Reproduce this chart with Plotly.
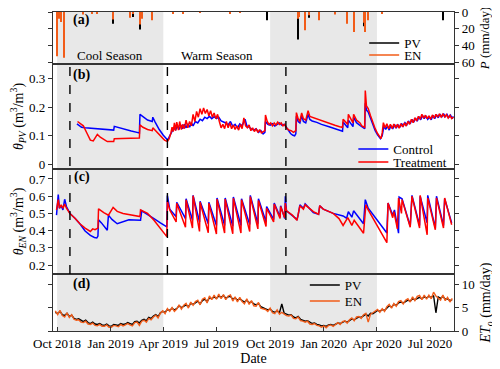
import plotly.graph_objects as go
import pandas as pd

# ---------------- DATA ----------------
# (a) precipitation events (mm/day)
rain_pv_dates = ["2018-10-01", "2018-10-05", "2018-10-13", "2019-01-05", "2019-02-03", "2019-02-08",
                 "2019-02-20", "2019-03-12", "2019-09-25", "2019-11-18", "2019-12-07", "2019-12-23",
                 "2020-03-09", "2020-03-17", "2020-07-23"]
rain_pv = [50, 6, 52, 14, 3, 6, 21, 4, 10, 33, 7, 6, 17, 7, 10]
rain_en_dates = ["2018-10-01", "2018-10-05", "2018-10-08", "2018-10-13", "2018-11-14", "2018-11-30",
                 "2018-12-09", "2019-01-05", "2019-02-03", "2019-02-08", "2019-02-20", "2019-02-23",
                 "2019-03-12", "2019-04-17", "2019-05-04", "2019-06-03", "2019-07-24", "2019-08-10",
                 "2019-11-18", "2019-11-19", "2019-11-29", "2019-12-07", "2019-12-23", "2020-01-20",
                 "2020-02-09", "2020-02-21", "2020-03-09", "2020-03-12", "2020-03-17", "2020-04-09"]
rain_en = [53, 8, 12, 55, 3, 2, 1.5, 9, 7, 2, 15, 8, 10, 2, 1.5, 1, 2, 1,
           8, 6, 22, 4, 10, 3, 14, 24, 13, 24, 10, 1.5]

# (b) theta_PV (m3/m3)
pv_control = [
    ("2018-11-04", 0.142), ("2018-11-08", 0.135), ("2018-11-12", 0.130), ("2018-11-18", 0.128),
    ("2018-11-25", 0.127), ("2018-12-02", 0.125), ("2018-12-10", 0.124), ("2018-12-18", 0.123),
    ("2018-12-28", 0.121), ("2019-01-06", 0.120), ("2019-01-07", 0.133), ("2019-01-15", 0.128),
    ("2019-01-25", 0.122), ("2019-02-05", 0.117), ("2019-02-15", 0.112), ("2019-02-19", 0.110),
    ("2019-02-20", 0.175), ("2019-02-25", 0.168), ("2019-03-01", 0.160), ("2019-03-05", 0.155),
    ("2019-03-13", 0.150), ("2019-03-14", 0.165), ("2019-03-18", 0.148), ("2019-03-25", 0.122),
    ("2019-04-01", 0.102), ("2019-04-08", 0.086), ("2019-04-10", 0.092), ("2019-04-13", 0.105),
    ("2019-04-16", 0.118), ("2019-04-19", 0.128), ("2019-04-22", 0.120), ("2019-04-25", 0.135),
    ("2019-04-28", 0.122), ("2019-05-01", 0.138), ("2019-05-04", 0.125), ("2019-05-07", 0.140),
    ("2019-05-10", 0.128), ("2019-05-13", 0.142), ("2019-05-16", 0.130), ("2019-05-19", 0.145),
    ("2019-05-22", 0.135), ("2019-05-26", 0.150), ("2019-05-30", 0.145), ("2019-06-03", 0.158),
    ("2019-06-07", 0.153), ("2019-06-11", 0.165), ("2019-06-15", 0.160), ("2019-06-19", 0.168),
    ("2019-06-23", 0.160), ("2019-06-27", 0.167), ("2019-07-01", 0.160), ("2019-07-05", 0.165),
    ("2019-07-09", 0.152), ("2019-07-13", 0.148), ("2019-07-17", 0.145), ("2019-07-21", 0.138),
    ("2019-07-25", 0.150), ("2019-07-29", 0.133), ("2019-08-02", 0.140), ("2019-08-06", 0.128),
    ("2019-08-10", 0.142), ("2019-08-14", 0.135), ("2019-08-19", 0.158), ("2019-08-22", 0.135),
    ("2019-08-26", 0.128), ("2019-08-30", 0.124), ("2019-09-03", 0.120), ("2019-09-07", 0.125),
    ("2019-09-11", 0.112), ("2019-09-15", 0.118), ("2019-09-19", 0.107), ("2019-09-22", 0.112),
    ("2019-09-23", 0.150), ("2019-09-27", 0.140), ("2019-10-01", 0.137), ("2019-10-05", 0.142),
    ("2019-10-09", 0.134), ("2019-10-13", 0.140), ("2019-10-17", 0.145), ("2019-10-21", 0.137),
    ("2019-10-25", 0.140), ("2019-10-28", 0.132), ("2019-11-01", 0.118), ("2019-11-05", 0.108),
    ("2019-11-09", 0.102), ("2019-11-12", 0.100), ("2019-11-14", 0.107), ("2019-11-15", 0.168),
    ("2019-11-18", 0.150), ("2019-11-21", 0.145), ("2019-11-24", 0.170), ("2019-11-27", 0.150),
    ("2019-12-01", 0.145), ("2019-12-05", 0.175), ("2019-12-08", 0.157), ("2019-12-12", 0.152),
    ("2019-12-20", 0.147), ("2019-12-28", 0.140), ("2020-01-10", 0.132), ("2020-01-20", 0.125),
    ("2020-01-28", 0.119), ("2020-02-02", 0.116), ("2020-02-03", 0.148), ("2020-02-08", 0.135),
    ("2020-02-11", 0.128), ("2020-02-12", 0.155), ("2020-02-16", 0.145), ("2020-02-20", 0.132),
    ("2020-02-21", 0.165), ("2020-02-26", 0.146), ("2020-03-03", 0.136), ("2020-03-11", 0.125),
    ("2020-03-12", 0.214), ("2020-03-14", 0.190), ("2020-03-17", 0.183), ("2020-03-21", 0.160),
    ("2020-03-25", 0.138), ("2020-03-29", 0.118), ("2020-04-02", 0.103), ("2020-04-07", 0.090),
    ("2020-04-10", 0.100), ("2020-04-13", 0.135), ("2020-04-16", 0.122), ("2020-04-19", 0.135),
    ("2020-04-22", 0.120), ("2020-04-25", 0.136), ("2020-04-28", 0.124), ("2020-05-01", 0.140),
    ("2020-05-04", 0.127), ("2020-05-07", 0.138), ("2020-05-10", 0.129), ("2020-05-13", 0.143),
    ("2020-05-16", 0.134), ("2020-05-19", 0.146), ("2020-05-22", 0.138), ("2020-05-25", 0.152),
    ("2020-05-28", 0.142), ("2020-05-31", 0.157), ("2020-06-03", 0.148), ("2020-06-06", 0.162),
    ("2020-06-09", 0.151), ("2020-06-12", 0.167), ("2020-06-15", 0.156), ("2020-06-18", 0.172),
    ("2020-06-21", 0.160), ("2020-06-24", 0.170), ("2020-06-27", 0.158), ("2020-06-30", 0.166),
    ("2020-07-03", 0.156), ("2020-07-06", 0.172), ("2020-07-09", 0.160), ("2020-07-12", 0.174),
    ("2020-07-15", 0.163), ("2020-07-18", 0.176), ("2020-07-21", 0.165), ("2020-07-24", 0.178),
    ("2020-07-27", 0.167), ("2020-07-30", 0.175), ("2020-08-02", 0.164), ("2020-08-05", 0.172),
    ("2020-08-08", 0.160), ("2020-08-10", 0.168)]

pv_treatment = [
    ("2018-11-05", 0.150), ("2018-11-15", 0.135), ("2018-11-21", 0.110), ("2018-11-27", 0.085),
    ("2018-12-02", 0.082), ("2018-12-09", 0.105), ("2018-12-14", 0.095), ("2018-12-26", 0.080),
    ("2019-01-06", 0.080), ("2019-01-07", 0.090), ("2019-01-20", 0.091), ("2019-02-05", 0.092),
    ("2019-02-19", 0.092), ("2019-02-20", 0.138), ("2019-02-25", 0.130), ("2019-03-05", 0.122),
    ("2019-03-13", 0.118), ("2019-03-14", 0.128), ("2019-03-20", 0.115), ("2019-03-27", 0.098),
    ("2019-04-03", 0.085), ("2019-04-08", 0.080), ("2019-04-11", 0.090), ("2019-04-14", 0.110),
    ("2019-04-16", 0.130), ("2019-04-18", 0.115), ("2019-04-20", 0.145), ("2019-04-22", 0.118),
    ("2019-04-24", 0.148), ("2019-04-27", 0.120), ("2019-04-29", 0.150), ("2019-05-02", 0.122),
    ("2019-05-04", 0.140), ("2019-05-07", 0.125), ("2019-05-10", 0.155), ("2019-05-13", 0.128),
    ("2019-05-16", 0.150), ("2019-05-19", 0.135), ("2019-05-22", 0.175), ("2019-05-25", 0.150),
    ("2019-05-28", 0.185), ("2019-05-31", 0.165), ("2019-06-03", 0.195), ("2019-06-06", 0.175),
    ("2019-06-09", 0.197), ("2019-06-12", 0.178), ("2019-06-15", 0.192), ("2019-06-18", 0.170),
    ("2019-06-21", 0.188), ("2019-06-24", 0.165), ("2019-06-27", 0.180), ("2019-06-30", 0.160),
    ("2019-07-03", 0.175), ("2019-07-06", 0.150), ("2019-07-09", 0.128), ("2019-07-12", 0.140),
    ("2019-07-15", 0.125), ("2019-07-18", 0.150), ("2019-07-21", 0.128), ("2019-07-24", 0.145),
    ("2019-07-27", 0.125), ("2019-07-30", 0.138), ("2019-08-02", 0.122), ("2019-08-05", 0.135),
    ("2019-08-08", 0.120), ("2019-08-11", 0.140), ("2019-08-14", 0.125), ("2019-08-17", 0.163),
    ("2019-08-20", 0.135), ("2019-08-23", 0.128), ("2019-08-26", 0.138), ("2019-08-29", 0.118),
    ("2019-09-01", 0.128), ("2019-09-04", 0.115), ("2019-09-07", 0.125), ("2019-09-10", 0.112),
    ("2019-09-13", 0.122), ("2019-09-16", 0.110), ("2019-09-20", 0.115), ("2019-09-22", 0.118),
    ("2019-09-23", 0.173), ("2019-09-26", 0.150), ("2019-09-29", 0.140), ("2019-10-02", 0.145),
    ("2019-10-05", 0.135), ("2019-10-08", 0.145), ("2019-10-11", 0.138), ("2019-10-14", 0.148),
    ("2019-10-17", 0.140), ("2019-10-20", 0.145), ("2019-10-23", 0.135), ("2019-10-26", 0.140),
    ("2019-10-29", 0.128), ("2019-11-02", 0.120), ("2019-11-06", 0.118), ("2019-11-10", 0.112),
    ("2019-11-14", 0.118), ("2019-11-15", 0.181), ("2019-11-18", 0.160), ("2019-11-21", 0.150),
    ("2019-11-24", 0.180), ("2019-11-27", 0.160), ("2019-12-01", 0.155), ("2019-12-05", 0.188),
    ("2019-12-08", 0.168), ("2019-12-12", 0.165), ("2019-12-20", 0.160), ("2019-12-28", 0.152),
    ("2020-01-10", 0.142), ("2020-01-20", 0.137), ("2020-01-28", 0.132), ("2020-02-02", 0.130),
    ("2020-02-03", 0.158), ("2020-02-08", 0.145), ("2020-02-11", 0.140), ("2020-02-12", 0.175),
    ("2020-02-16", 0.160), ("2020-02-20", 0.145), ("2020-02-21", 0.175), ("2020-02-26", 0.155),
    ("2020-03-03", 0.145), ("2020-03-06", 0.135), ("2020-03-11", 0.130), ("2020-03-12", 0.258),
    ("2020-03-14", 0.205), ("2020-03-17", 0.195), ("2020-03-21", 0.170), ("2020-03-25", 0.145),
    ("2020-03-29", 0.125), ("2020-04-02", 0.108), ("2020-04-06", 0.095), ("2020-04-08", 0.090),
    ("2020-04-10", 0.110), ("2020-04-12", 0.146), ("2020-04-15", 0.128), ("2020-04-18", 0.142),
    ("2020-04-21", 0.125), ("2020-04-24", 0.140), ("2020-04-27", 0.126), ("2020-04-30", 0.141),
    ("2020-05-03", 0.128), ("2020-05-06", 0.140), ("2020-05-09", 0.127), ("2020-05-12", 0.142),
    ("2020-05-15", 0.131), ("2020-05-18", 0.145), ("2020-05-21", 0.134), ("2020-05-24", 0.150),
    ("2020-05-27", 0.140), ("2020-05-30", 0.158), ("2020-06-02", 0.146), ("2020-06-05", 0.163),
    ("2020-06-08", 0.152), ("2020-06-11", 0.168), ("2020-06-14", 0.158), ("2020-06-17", 0.175),
    ("2020-06-20", 0.162), ("2020-06-23", 0.172), ("2020-06-26", 0.160), ("2020-06-29", 0.170),
    ("2020-07-02", 0.158), ("2020-07-05", 0.173), ("2020-07-08", 0.162), ("2020-07-11", 0.175),
    ("2020-07-14", 0.165), ("2020-07-17", 0.177), ("2020-07-20", 0.166), ("2020-07-23", 0.176),
    ("2020-07-26", 0.166), ("2020-07-29", 0.174), ("2020-08-01", 0.162), ("2020-08-04", 0.171),
    ("2020-08-07", 0.160), ("2020-08-10", 0.166)]

# (c) theta_EN (m3/m3)
en_control = [
    ("2018-09-30", 0.490), ("2018-10-03", 0.610), ("2018-10-05", 0.530), ("2018-10-08", 0.545),
    ("2018-10-11", 0.520), ("2018-10-14", 0.582), ("2018-10-17", 0.540), ("2018-10-23", 0.500),
    ("2018-11-01", 0.470), ("2018-11-09", 0.440), ("2018-11-18", 0.398), ("2018-11-27", 0.372),
    ("2018-12-04", 0.360), ("2018-12-08", 0.357), ("2018-12-10", 0.368), ("2018-12-11", 0.463),
    ("2018-12-16", 0.445), ("2018-12-22", 0.420), ("2018-12-26", 0.402), ("2018-12-28", 0.490),
    ("2019-01-03", 0.465), ("2019-01-12", 0.440), ("2019-01-22", 0.452), ("2019-02-01", 0.463),
    ("2019-02-10", 0.462), ("2019-02-21", 0.460), ("2019-02-23", 0.515), ("2019-03-05", 0.495),
    ("2019-03-16", 0.470), ("2019-03-27", 0.445), ("2019-04-07", 0.422), ("2019-04-08", 0.604),
    ("2019-04-12", 0.525), ("2019-04-23", 0.480), ("2019-04-24", 0.565), ("2019-05-09", 0.470),
    ("2019-05-10", 0.585), ("2019-05-21", 0.460), ("2019-05-22", 0.605), ("2019-06-02", 0.450),
    ("2019-06-03", 0.570), ("2019-06-17", 0.440), ("2019-06-18", 0.565), ("2019-07-01", 0.430),
    ("2019-07-02", 0.590), ("2019-07-15", 0.430), ("2019-07-16", 0.590), ("2019-07-29", 0.425),
    ("2019-07-30", 0.595), ("2019-08-12", 0.430), ("2019-08-13", 0.585), ("2019-08-27", 0.435),
    ("2019-08-28", 0.605), ("2019-09-10", 0.440), ("2019-09-11", 0.585), ("2019-09-24", 0.450),
    ("2019-09-25", 0.540), ("2019-10-07", 0.465), ("2019-10-08", 0.560), ("2019-10-18", 0.480),
    ("2019-10-19", 0.545), ("2019-10-26", 0.470), ("2019-10-27", 0.600), ("2019-10-29", 0.515),
    ("2019-11-08", 0.490), ("2019-11-16", 0.465), ("2019-11-18", 0.490), ("2019-11-21", 0.550),
    ("2019-11-27", 0.530), ("2019-11-30", 0.555), ("2019-12-14", 0.505), ("2019-12-23", 0.495),
    ("2019-12-25", 0.545), ("2019-12-31", 0.525), ("2020-01-17", 0.500), ("2020-02-03", 0.485),
    ("2020-02-09", 0.472), ("2020-02-12", 0.510), ("2020-02-18", 0.478), ("2020-02-21", 0.515),
    ("2020-03-09", 0.440), ("2020-03-12", 0.580), ("2020-03-17", 0.530), ("2020-04-18", 0.386),
    ("2020-04-20", 0.560), ("2020-04-28", 0.490), ("2020-05-01", 0.520), ("2020-05-08", 0.385),
    ("2020-05-09", 0.595), ("2020-05-14", 0.585), ("2020-05-28", 0.425), ("2020-05-31", 0.605),
    ("2020-06-13", 0.430), ("2020-06-14", 0.600), ("2020-06-26", 0.445), ("2020-06-27", 0.605),
    ("2020-07-10", 0.415), ("2020-07-12", 0.600), ("2020-07-24", 0.430), ("2020-07-26", 0.585),
    ("2020-08-07", 0.445)]

en_treatment = [
    ("2018-09-30", 0.520), ("2018-10-03", 0.580), ("2018-10-05", 0.530), ("2018-10-08", 0.550),
    ("2018-10-11", 0.530), ("2018-10-14", 0.555), ("2018-10-17", 0.530), ("2018-10-23", 0.500),
    ("2018-11-01", 0.470), ("2018-11-09", 0.440), ("2018-11-18", 0.415), ("2018-11-27", 0.395),
    ("2018-12-01", 0.410), ("2018-12-05", 0.405), ("2018-12-10", 0.415), ("2018-12-11", 0.527),
    ("2018-12-20", 0.505), ("2018-12-28", 0.490), ("2019-01-05", 0.535), ("2019-01-12", 0.512),
    ("2019-01-22", 0.500), ("2019-02-05", 0.490), ("2019-02-20", 0.482), ("2019-02-21", 0.520),
    ("2019-03-05", 0.500), ("2019-03-16", 0.460), ("2019-03-27", 0.410), ("2019-04-07", 0.365),
    ("2019-04-08", 0.569), ("2019-04-12", 0.520), ("2019-04-23", 0.450), ("2019-04-24", 0.559),
    ("2019-05-09", 0.420), ("2019-05-10", 0.579), ("2019-05-21", 0.415), ("2019-05-22", 0.603),
    ("2019-06-02", 0.395), ("2019-06-03", 0.565), ("2019-06-17", 0.388), ("2019-06-18", 0.559),
    ("2019-07-01", 0.380), ("2019-07-02", 0.583), ("2019-07-15", 0.386), ("2019-07-16", 0.583),
    ("2019-07-29", 0.382), ("2019-07-30", 0.588), ("2019-08-12", 0.386), ("2019-08-13", 0.580),
    ("2019-08-27", 0.395), ("2019-08-28", 0.598), ("2019-09-10", 0.410), ("2019-09-11", 0.575),
    ("2019-09-24", 0.424), ("2019-09-25", 0.530), ("2019-10-07", 0.450), ("2019-10-08", 0.554),
    ("2019-10-18", 0.470), ("2019-10-19", 0.540), ("2019-10-26", 0.475), ("2019-10-27", 0.560),
    ("2019-10-29", 0.515), ("2019-11-08", 0.490), ("2019-11-16", 0.460), ("2019-11-18", 0.490),
    ("2019-11-21", 0.545), ("2019-11-27", 0.525), ("2019-11-30", 0.550), ("2019-12-14", 0.510),
    ("2019-12-23", 0.495), ("2019-12-25", 0.545), ("2019-12-31", 0.525), ("2020-01-17", 0.500),
    ("2020-01-27", 0.470), ("2020-02-03", 0.430), ("2020-02-11", 0.475), ("2020-02-18", 0.430),
    ("2020-02-22", 0.460), ("2020-03-09", 0.385), ("2020-03-13", 0.550), ("2020-03-17", 0.520),
    ("2020-04-18", 0.330), ("2020-04-20", 0.560), ("2020-04-28", 0.475), ("2020-04-30", 0.510),
    ("2020-05-06", 0.410), ("2020-05-08", 0.590), ("2020-05-13", 0.500), ("2020-05-14", 0.580),
    ("2020-05-28", 0.420), ("2020-05-31", 0.600), ("2020-06-13", 0.415), ("2020-06-14", 0.605),
    ("2020-06-26", 0.376), ("2020-06-27", 0.590), ("2020-07-10", 0.405), ("2020-07-12", 0.590),
    ("2020-07-24", 0.415), ("2020-07-26", 0.590), ("2020-08-07", 0.434)]

# (d) reference evapotranspiration ET_o (mm/day), every 4 days from 2018-09-28
et_start = "2018-09-28"
et_pv = [4.0, 3.7, 4.2, 3.5, 3.3, 3.8, 3.1, 3.4, 2.7, 2.5,
         2.6, 2.2, 2.0, 2.3, 1.8, 1.6, 1.9, 1.5, 1.4, 1.6,
         1.3, 1.2, 1.5, 1.1, 1.0, 1.4, 1.3, 1.2, 1.6, 1.4,
         1.5, 1.8, 1.6, 1.4, 2.0, 2.1, 1.7, 2.3, 2.5, 2.2,
         2.9, 2.7, 3.2, 3.5, 3.1, 3.9, 4.2, 4.0, 4.6, 4.4,
         4.9, 4.5, 4.8, 5.4, 5.0, 5.3, 5.6, 5.2, 5.9, 5.7,
         6.0, 6.4, 5.8, 6.5, 6.8, 6.3, 7.1, 6.9, 7.3, 7.0,
         7.5, 7.2, 7.6, 7.0, 7.3, 7.4, 6.8, 7.1, 6.6, 6.9,
         6.5, 6.2, 6.6, 6.0, 6.3, 5.8, 5.6, 5.9, 5.2, 5.0,
         4.8, 4.5, 4.7, 4.2, 4.0, 4.3, 3.9, 5.8, 3.8, 3.6,
         3.4, 3.5, 3.0, 2.8, 3.1, 2.5, 2.3, 2.1, 2.2, 1.8,
         1.6, 1.7, 1.4, 1.3, 1.1, 1.2, 1.0, 1.3, 1.4, 1.2,
         1.5, 1.7, 1.6, 1.9, 2.1, 1.9, 2.3, 2.6, 2.4, 2.8,
         3.0, 2.9, 3.3, 3.6, 3.2, 3.8, 3.7, 4.1, 4.4, 4.2,
         4.6, 4.4, 5.0, 5.4, 5.1, 5.7, 5.5, 6.0, 6.2, 6.0,
         6.3, 6.6, 6.4, 6.9, 6.7, 7.0, 7.2, 6.9, 7.3, 7.1,
         7.4, 7.2, 7.6, 3.9, 7.3, 7.0, 7.4, 6.8, 6.9, 6.5,
         6.7]
et_en = [4.3, 3.5, 4.4, 3.3, 3.0, 3.9, 2.9, 3.5, 2.5, 2.3,
         2.4, 1.9, 1.8, 2.1, 1.5, 1.4, 1.7, 1.2, 1.1, 1.4,
         1.0, 1.0, 1.3, 0.8, 0.8, 1.2, 1.1, 0.9, 1.4, 1.1,
         1.3, 1.6, 1.3, 1.1, 1.8, 1.9, 1.2, 2.1, 2.3, 1.9,
         2.7, 2.4, 3.0, 3.4, 2.8, 3.8, 4.3, 3.7, 4.8, 4.2,
         5.0, 4.2, 4.7, 5.6, 4.7, 5.5, 5.9, 4.9, 6.2, 5.5,
         6.3, 6.6, 5.6, 6.8, 7.1, 6.0, 7.5, 6.7, 7.7, 6.8,
         7.9, 6.9, 7.8, 6.7, 7.5, 7.7, 6.4, 7.3, 6.2, 7.2,
         6.3, 5.8, 6.9, 5.7, 6.5, 5.4, 5.3, 6.1, 4.9, 4.7,
         4.6, 4.2, 4.9, 3.9, 3.7, 4.5, 3.6, 4.0, 3.6, 3.3,
         3.2, 3.4, 2.7, 2.6, 3.0, 2.2, 2.1, 1.9, 2.1, 1.5,
         1.4, 1.6, 1.2, 1.1, 0.8, 1.1, 0.7, 1.2, 1.3, 1.0,
         1.4, 1.8, 1.4, 2.0, 2.2, 1.7, 2.4, 2.8, 2.2, 3.0,
         3.1, 2.7, 3.5, 3.8, 1.9, 3.6, 3.9, 4.3, 4.6, 4.0,
         4.8, 4.2, 5.2, 5.7, 4.9, 5.9, 5.3, 6.3, 6.5, 5.8,
         6.6, 6.9, 6.2, 7.3, 6.5, 7.4, 7.6, 6.7, 7.7, 6.8,
         7.7, 6.9, 8.3, 7.5, 7.0, 6.6, 7.7, 6.5, 7.2, 6.2,
         7.0]

# periods
cool_seasons = [("2018-10-01", "2019-04-01"), ("2019-10-01", "2020-04-01")]
marker_dates = ["2018-10-23", "2019-04-08", "2019-10-28"]
tick_dates = ["2018-10-01", "2019-01-01", "2019-04-01", "2019-07-01", "2019-10-01",
              "2020-01-01", "2020-04-01", "2020-07-01"]
tick_labels = ["Oct 2018", "Jan 2019", "Apr 2019", "Jul 2019", "Oct 2019",
               "Jan 2020", "Apr 2020", "Jul 2020"]
x_range = ["2018-09-24", "2020-08-11"]

# ---------------- FIGURE ----------------
BLACK = "#000000"
ORANGE = "#F25C19"
BLUE = "#0000FF"
RED = "#FF0000"
FONT = "Liberation Serif"
DAY_MS = 86400000

et_dates = pd.date_range(et_start, periods=len(et_pv), freq="4D")

def split(pairs):
    return [p[0] for p in pairs], [p[1] for p in pairs]

fig = go.Figure()

# (a) precipitation bars
fig.add_trace(go.Bar(x=rain_pv_dates, y=rain_pv, width=[1.8 * DAY_MS] * len(rain_pv),
                     marker=dict(color=BLACK, line=dict(width=0)), showlegend=False,
                     xaxis="x", yaxis="y"))
fig.add_trace(go.Bar(x=rain_en_dates, y=rain_en, width=[1.8 * DAY_MS] * len(rain_en),
                     marker=dict(color=ORANGE, line=dict(width=0)), showlegend=False,
                     xaxis="x", yaxis="y"))
fig.add_trace(go.Scatter(x=[None], y=[None], mode="lines", line=dict(color=BLACK, width=1.5),
                         name="PV", legend="legend", xaxis="x", yaxis="y"))
fig.add_trace(go.Scatter(x=[None], y=[None], mode="lines", line=dict(color=ORANGE, width=1.5),
                         name="EN", legend="legend2", xaxis="x", yaxis="y"))

# (b)
x, y = split(pv_control)
fig.add_trace(go.Scatter(x=x, y=y, mode="lines", line=dict(color=BLUE, width=1.5),
                         name="Control", legend="legend3", xaxis="x2", yaxis="y2"))
x, y = split(pv_treatment)
fig.add_trace(go.Scatter(x=x, y=y, mode="lines", line=dict(color=RED, width=1.5),
                         name="Treatment", legend="legend4", xaxis="x2", yaxis="y2"))

# (c)
x, y = split(en_control)
fig.add_trace(go.Scatter(x=x, y=y, mode="lines", line=dict(color=BLUE, width=1.5),
                         showlegend=False, xaxis="x3", yaxis="y3"))
x, y = split(en_treatment)
fig.add_trace(go.Scatter(x=x, y=y, mode="lines", line=dict(color=RED, width=1.5),
                         showlegend=False, xaxis="x3", yaxis="y3"))

# (d)
fig.add_trace(go.Scatter(x=et_dates, y=et_pv, mode="lines", line=dict(color=BLACK, width=1.4),
                         name="PV", legend="legend5", xaxis="x4", yaxis="y4"))
fig.add_trace(go.Scatter(x=et_dates, y=et_en, mode="lines", line=dict(color=ORANGE, width=1.4),
                         name="EN", legend="legend6", xaxis="x4", yaxis="y4"))

dom = {"a": [0.837, 1.0], "b": [0.5078, 0.837], "c": [0.1787, 0.5078], "d": [0.0, 0.1787]}
axline = dict(showline=True, linecolor="#333333", linewidth=1.3, mirror=True, showgrid=False,
              zeroline=False)
tickfont = dict(family=FONT, size=13, color="black")
titlefont = dict(family=FONT, size=14, color="black")
ycommon = dict(showline=True, linecolor="#333333", linewidth=1.3, mirror="ticks",
               showgrid=False, zeroline=False, ticks="outside", ticklen=4,
               tickcolor="#333333", tickfont=tickfont)

xcommon = dict(range=x_range, type="date", **axline)
fig.update_layout(
    xaxis=dict(anchor="y", matches="x4", showticklabels=False, ticks="", **xcommon),
    xaxis2=dict(anchor="y2", matches="x4", showticklabels=False, ticks="", **xcommon),
    xaxis3=dict(anchor="y3", matches="x4", showticklabels=False, ticks="", **xcommon),
    xaxis4=dict(anchor="y4", tickvals=tick_dates, ticktext=tick_labels, ticks="inside",
                ticklen=4, tickcolor="#333333", tickfont=tickfont,
                title=dict(text="Date", font=titlefont, standoff=2), **xcommon),
    yaxis=dict(domain=dom["a"], anchor="x", side="right", range=[62.4, 0],
               tickvals=[0, 20, 40, 60], ticklabeloverflow="allow", automargin=False,
               title=dict(text="<i>P</i> (mm/day)", font=dict(family=FONT, size=13, color="black"),
                          standoff=6), **ycommon),
    yaxis2=dict(domain=dom["b"], anchor="x2", range=[-0.016, 0.351],
                tickvals=[0, 0.1, 0.2, 0.3], ticktext=["0", "0.1", "0.2", "0.3"],
                title=dict(text="<i>θ</i><sub><i>PV</i></sub> (m<sup>3</sup>/m<sup>3</sup>)",
                           font=titlefont, standoff=4), **ycommon),
    yaxis3=dict(domain=dom["c"], anchor="x3", range=[0.148, 0.758],
                tickvals=[0.2, 0.3, 0.4, 0.5, 0.6, 0.7],
                ticktext=["0.2", "0.3", "0.4", "0.5", "0.6", "0.7"],
                title=dict(text="<i>θ</i><sub><i>EN</i></sub> (m<sup>3</sup>/m<sup>3</sup>)",
                           font=titlefont, standoff=4), **ycommon),
    yaxis4=dict(domain=dom["d"], anchor="x4", side="right", range=[0, 12.2],
                tickvals=[0, 5, 10],
                title=dict(text="<i>ET</i><sub><i>o</i></sub> (mm/day)", font=titlefont, standoff=6),
                **ycommon),
    barmode="overlay",
    width=492, height=361,
    margin=dict(l=45, r=46, t=4, b=38),
    paper_bgcolor="white", plot_bgcolor="rgba(0,0,0,0)",
    font=dict(family=FONT, size=13, color="black"),
)

leg = dict(xanchor="left", yanchor="middle", bgcolor="rgba(0,0,0,0)", borderwidth=0,
           font=dict(family=FONT, size=13, color="black"), itemwidth=30)
fig.update_layout(
    legend=dict(x=0.776, y=0.903, **leg),
    legend2=dict(x=0.776, y=0.865, **leg),
    legend3=dict(x=0.749, y=0.5705, **leg),
    legend4=dict(x=0.749, y=0.5298, **leg),
    legend5=dict(x=0.628, y=0.144, **leg),
    legend6=dict(x=0.628, y=0.094, **leg),
)

shapes = []
for s, e in cool_seasons:
    shapes.append(dict(type="rect", xref="x4", yref="paper", x0=s, x1=e, y0=0, y1=1,
                       fillcolor="#E8E8E8", line=dict(width=0), layer="below"))
for d in marker_dates:
    shapes.append(dict(type="line", xref="x4", yref="paper", x0=d, x1=d,
                       y0=dom["c"][0], y1=dom["b"][1],
                       line=dict(color="black", width=1.4, dash="dash"), layer="above"))
fig.update_layout(shapes=shapes)

ann = []
for lab, yy in [("(a)", 0.975), ("(b)", 0.8025), ("(c)", 0.4828), ("(d)", 0.1473)]:
    ann.append(dict(text="<b>" + lab + "</b>", xref="paper", yref="paper", x=0.072, y=yy,
                    xanchor="center", yanchor="middle", showarrow=False,
                    font=dict(family=FONT, size=14, color="black")))
ann.append(dict(text="Cool Season", xref="paper", yref="paper", x=0.142, y=0.865,
                xanchor="center", yanchor="middle", showarrow=False,
                font=dict(family=FONT, size=13, color="black")))
ann.append(dict(text="Warm Season", xref="paper", yref="paper", x=0.409, y=0.865,
                xanchor="center", yanchor="middle", showarrow=False,
                font=dict(family=FONT, size=13, color="black")))
fig.update_layout(annotations=ann)

fig.write_html("out.html")
